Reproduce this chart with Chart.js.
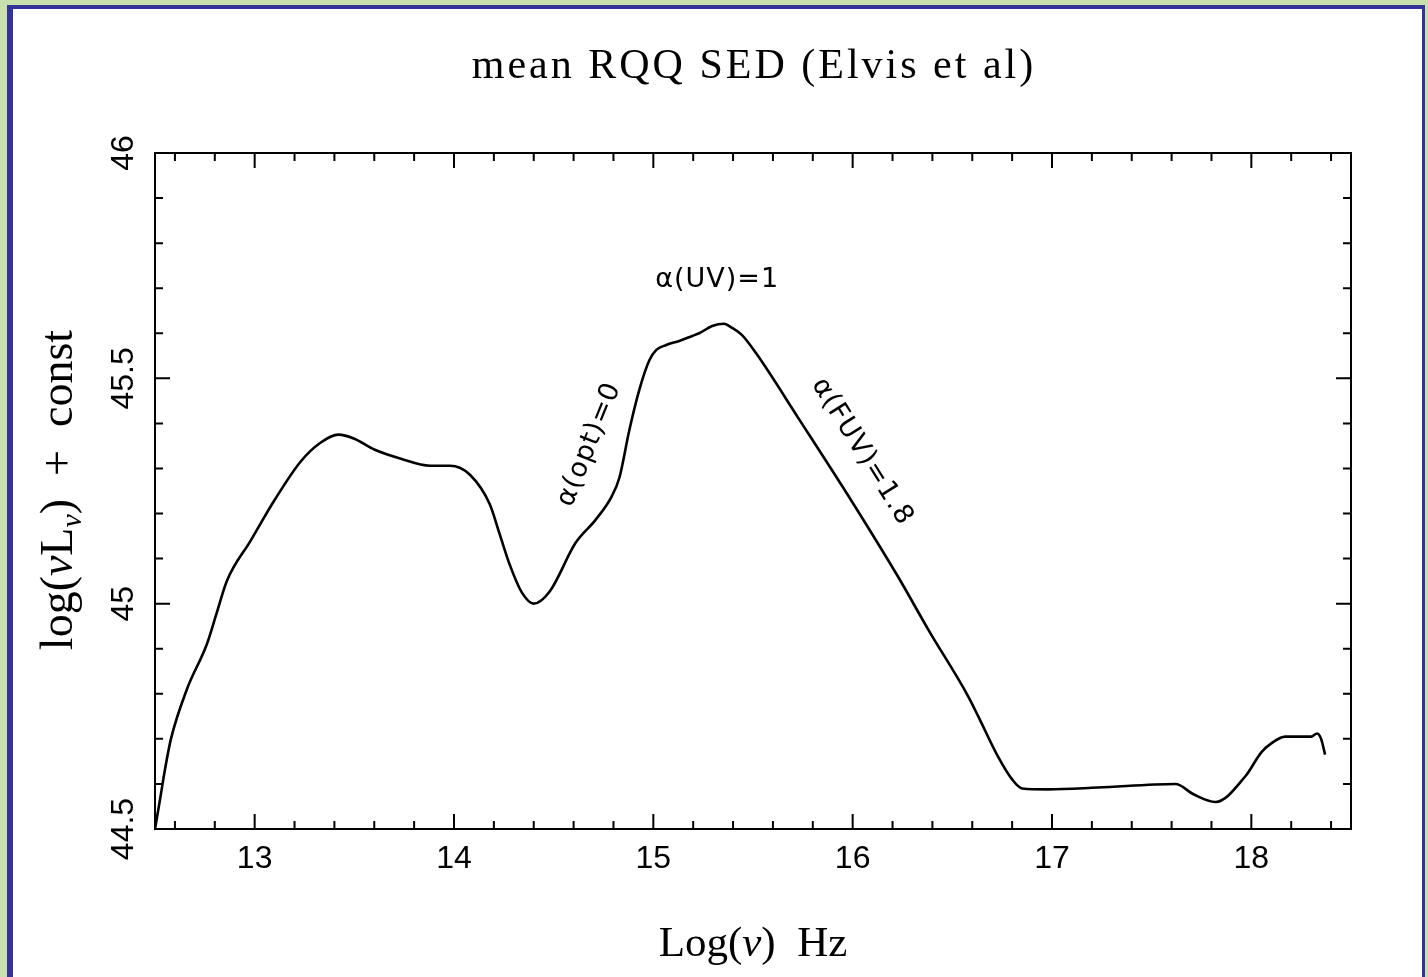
<!DOCTYPE html>
<html><head><meta charset="utf-8">
<script src="https://cdn.jsdelivr.net/npm/chart.js@4.4.1/dist/chart.umd.min.js"></script>
<style>
html,body{margin:0;padding:0;width:1428px;height:977px;overflow:hidden;background:#c9dfae;}
#frame{position:absolute;left:7px;top:5px;width:1409px;height:1000px;background:#fff;border-left:6px solid #333399;border-top:4px solid #333399;border-right:3px solid #333399;}
#c{position:absolute;left:0;top:0;}
</style></head><body>
<div id="frame"></div>
<canvas id="c" width="1428" height="977"></canvas>
<script>
// ---- data ----
const logNu = [12.50,12.525,12.55,12.58,12.66,12.76,12.81,12.86,12.98,13.10,13.23,13.33,13.42,13.50,13.60,13.73,13.88,13.98,14.08,14.18,14.23,14.28,14.34,14.40,14.48,14.61,14.71,14.79,14.83,14.88,14.93,14.98,15.015,15.065,15.13,15.195,15.23,15.295,15.355,15.395,15.445,15.515,15.73,16.00,16.23,16.38,16.58,16.63,16.73,16.80,16.85,16.98,17.23,17.62,17.71,17.82,17.97,18.05,18.10,18.17,18.30,18.33,18.35,18.37];
const logNuLnu = [44.50,44.565,44.632,44.70,44.81,44.91,44.98,45.05,45.14,45.23,45.315,45.357,45.375,45.366,45.342,45.322,45.306,45.306,45.286,45.22,45.153,45.086,45.025,45.00,45.027,45.135,45.186,45.237,45.28,45.386,45.475,45.54,45.563,45.574,45.583,45.594,45.60,45.616,45.621,45.612,45.596,45.556,45.41,45.224,45.058,44.942,44.794,44.75,44.66,44.61,44.59,44.588,44.592,44.60,44.577,44.56,44.617,44.67,44.69,44.705,44.705,44.712,44.70,44.665];
const xTickValues = [13,14,15,16,17,18];
const xTickLabels = ['13','14','15','16','17','18'];
const yTickValues = [44.5,45,45.5,46];
const yTickLabels = ['44.5','45','45.5','46'];
const xMinorStep = 0.2;
const yMinorStep = 0.1;
const titleText = 'mean RQQ SED (Elvis et al)';
const annotations = [
  {text:'α(UV)=1', x:15.32, y:45.718, angle:0},
  {text:'α(opt)=0', x:14.68, y:45.353, angle:-68},
  {text:'α(FUV)=1.8', x:16.047, y:45.337, angle:58}
];

const decorPlugin = {
  id:'decor',
  afterDraw(chart){
    const ctx = chart.ctx, a = chart.chartArea, xs = chart.scales.x, ys = chart.scales.y;
    ctx.save();
    ctx.strokeStyle = '#000'; ctx.fillStyle = '#000';
    ctx.lineWidth = 2;
    ctx.strokeRect(a.left, a.top, a.right - a.left, a.bottom - a.top);
    const majL = 15, minL = 8;
    const isMajor = (v, arr) => arr.some(m => Math.abs(m - v) < 1e-6);
    // x ticks
    const nx = Math.round((xs.max - xs.min)/xMinorStep*2);
    for (let k = 1; k < nx; k++) {
      const r = Math.round((xs.min + k*xMinorStep/2)*10)/10;
      if (Math.abs(r*5 - Math.round(r*5)) > 1e-6) continue;
      const px = xs.getPixelForValue(r);
      const L = isMajor(r, xTickValues) ? majL : minL;
      ctx.beginPath();
      ctx.moveTo(px, a.bottom); ctx.lineTo(px, a.bottom - L);
      ctx.moveTo(px, a.top); ctx.lineTo(px, a.top + L);
      ctx.stroke();
    }
    // y ticks
    for (let k = 1; k < Math.round((ys.max - ys.min)/yMinorStep); k++) {
      const v = Math.round((ys.min + k*yMinorStep)*10)/10;
      const py = ys.getPixelForValue(v);
      const L = isMajor(v, yTickValues) ? majL : minL;
      ctx.beginPath();
      ctx.moveTo(a.left, py); ctx.lineTo(a.left + L, py);
      ctx.moveTo(a.right, py); ctx.lineTo(a.right - L, py);
      ctx.stroke();
    }
    // x tick labels
    ctx.font = '32px "Liberation Sans"';
    ctx.textAlign = 'center'; ctx.textBaseline = 'alphabetic';
    xTickValues.forEach((v,i) => ctx.fillText(xTickLabels[i], xs.getPixelForValue(v), a.bottom + 39));
    // y tick labels (rotated)
    yTickValues.forEach((v,i) => {
      ctx.save();
      ctx.translate(a.left - 22, ys.getPixelForValue(v));
      ctx.rotate(-Math.PI/2);
      ctx.fillText(yTickLabels[i], 0, 0);
      ctx.restore();
    });
    // title
    ctx.font = '42px "Liberation Serif"';
    ctx.letterSpacing = '3px';
    ctx.textAlign = 'center';
    ctx.fillText(titleText, (a.left + a.right)/2 + 1, 78);
    ctx.letterSpacing = '0px';
    // helper to draw mixed segments
    const drawSegs = (segs, cx, cy) => {
      let total = 0;
      segs.forEach(s => { ctx.font = s.font; s.w = ctx.measureText(s.t).width; total += s.w; });
      let x = cx - total/2;
      ctx.textAlign = 'left';
      segs.forEach(s => { ctx.font = s.font; ctx.fillText(s.t, x, cy + (s.dy||0)); x += s.w; });
    };
    // x axis title
    drawSegs([
      {t:'Log(', font:'43px "Liberation Serif"'},
      {t:'ν', font:'italic 43px "Liberation Serif"'},
      {t:')  Hz', font:'43px "Liberation Serif"'}
    ], (a.left + a.right)/2, 956);
    // y axis title (rotated)
    ctx.save();
    ctx.translate(72, 490);
    ctx.rotate(-Math.PI/2);
    drawSegs([
      {t:'log(', font:'46px "Liberation Serif"'},
      {t:'ν', font:'italic 46px "Liberation Serif"'},
      {t:'L', font:'46px "Liberation Serif"'},
      {t:'ν', font:'italic 30px "Liberation Serif"', dy:9},
      {t:')  +  const', font:'46px "Liberation Serif"'}
    ], 0, 0);
    ctx.restore();
    // annotations
    ctx.font = '27px "DejaVu Sans"';
    ctx.letterSpacing = '1px';
    ctx.textAlign = 'center'; ctx.textBaseline = 'middle';
    annotations.forEach(an => {
      ctx.save();
      ctx.translate(xs.getPixelForValue(an.x), ys.getPixelForValue(an.y));
      ctx.rotate(an.angle*Math.PI/180);
      ctx.fillText(an.text, 0, 0);
      ctx.restore();
    });
    ctx.letterSpacing = '0px';
    ctx.restore();
  }
};

new Chart(document.getElementById('c').getContext('2d'), {
  type:'scatter',
  data:{datasets:[{
    data: logNu.map((x,i) => ({x:x, y:logNuLnu[i]})),
    showLine:true, borderColor:'#000', borderWidth:2.6, pointRadius:0,
    cubicInterpolationMode:'monotone', fill:false
  }]},
  options:{
    responsive:false, animation:false, events:[],
    layout:{padding:{left:155, top:153, right:77, bottom:148}},
    plugins:{legend:{display:false}, tooltip:{enabled:false}, title:{display:false}},
    scales:{
      x:{type:'linear', min:12.5, max:18.5, ticks:{display:false}, grid:{display:false, drawTicks:false}, border:{display:false}},
      y:{type:'linear', min:44.5, max:46, ticks:{display:false}, grid:{display:false, drawTicks:false}, border:{display:false}}
    }
  },
  plugins:[decorPlugin]
});
</script>
</body></html>
